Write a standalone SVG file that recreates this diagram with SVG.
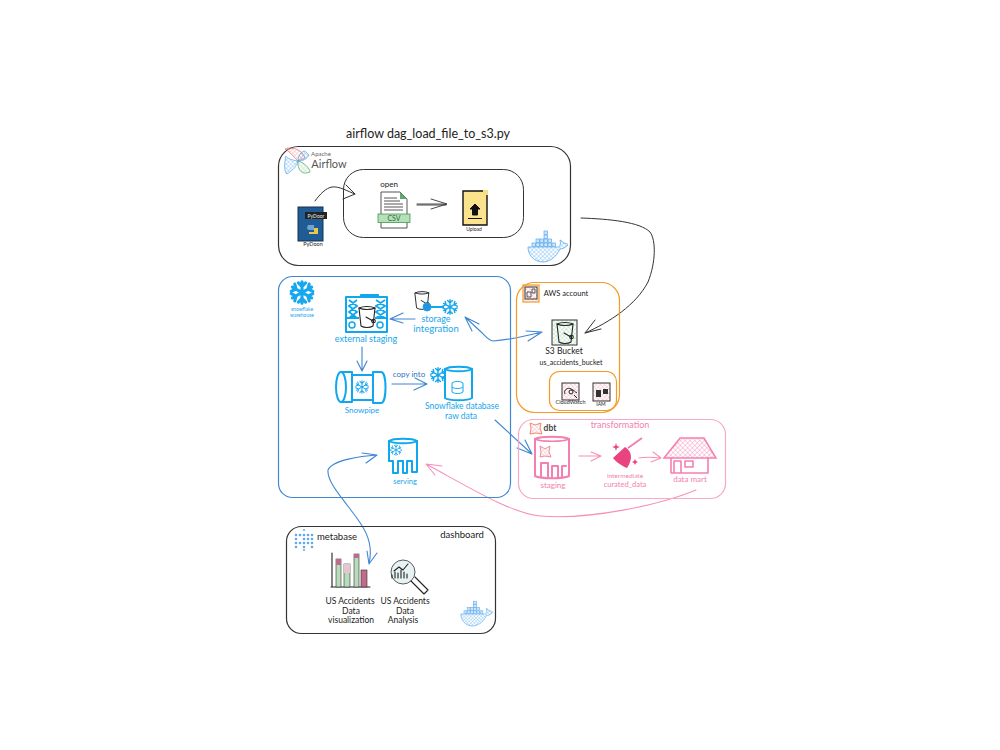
<svg xmlns="http://www.w3.org/2000/svg" width="1000" height="750" viewBox="0 0 1000 750">
<style>
text{font-family:"Lato","Liberation Sans",sans-serif;text-anchor:middle}
.k{fill:#222}.b{fill:#18a6ea}.p{fill:#f27fae}
.box{fill:none;stroke-width:1.2}
.ln{fill:none;stroke-linecap:round;stroke-linejoin:round}
.blk{stroke:#333;stroke-width:1}
.blu{stroke:#3f86d3;stroke-width:1.1}
.pnk{stroke:#f78fb8;stroke-width:1.1}
.ic{fill:none;stroke:#0fa8ee;stroke-width:2;stroke-linejoin:round;stroke-linecap:round}
.icp{fill:none;stroke:#f47fb0;stroke-width:1.6;stroke-linejoin:round;stroke-linecap:round}
.ick{fill:none;stroke:#222;stroke-width:1.1;stroke-linejoin:round;stroke-linecap:round}
</style>
<defs>
<pattern id="hb" width="3" height="3" patternUnits="userSpaceOnUse" patternTransform="rotate(45)"><path d="M0 0H3M0 0V3" stroke="#62aef0" stroke-width=".7"/></pattern>
<pattern id="hg" width="3" height="3" patternUnits="userSpaceOnUse" patternTransform="rotate(45)"><path d="M0 0H3M0 0V3" stroke="#a8d8b0" stroke-width=".8"/></pattern>
<pattern id="hr" width="3" height="3" patternUnits="userSpaceOnUse" patternTransform="rotate(45)"><path d="M0 0H3M0 0V3" stroke="#f3b0b8" stroke-width=".8"/></pattern>
<pattern id="hp" width="3.4" height="3.4" patternUnits="userSpaceOnUse" patternTransform="rotate(45)"><path d="M0 0H3.4M0 0V3.4" stroke="#f58db6" stroke-width=".8"/></pattern>
<g id="whale">
<path d="M-19 0H11C13 0 14 -3 13 -7C15 -6 16 -5 16 -4C19 -4 21 -3 21 -2C18 1 15 2 13 2C9 11 1 15 -4 15C-13 15 -19 8 -19 0Z" fill="url(#hb)" stroke="#5aa9ee" stroke-width=".8"/>
<g fill="#cfe5fa" stroke="#5aa9ee" stroke-width=".7"><rect x="-15" y="-4" width="3.600" height="3.600"/><rect x="-11" y="-4" width="3.600" height="3.600"/><rect x="-7" y="-4" width="3.600" height="3.600"/><rect x="-3" y="-4" width="3.600" height="3.600"/><rect x="1" y="-4" width="3.600" height="3.600"/><rect x="5" y="-4" width="3.600" height="3.600"/><rect x="-11" y="-8" width="3.600" height="3.600"/><rect x="-7" y="-8" width="3.600" height="3.600"/><rect x="-3" y="-8" width="3.600" height="3.600"/><rect x="1" y="-8" width="3.600" height="3.600"/><rect x="-3" y="-12" width="3.600" height="3.600"/><rect x="-3" y="-16" width="3.600" height="3.600"/></g>
</g>
<g id="flake" fill="none" stroke-linecap="round">
<path d="M0 -9V9M-8 -4.500L8 4.500M-8 4.500L8 -4.500M-3 -8L0 -5L3 -8M-3 8L0 5L3 8M-9 -1L-5 -3L-6 -7M9 1L5 3L6 7M-9 1L-5 3L-6 7M9 -1L5 -3L6 -7"/>
</g>
<g id="bucket" class="ick"><path d="M-8 -9C-4 -11 4 -11 8 -9L6 9C3 11 -3 11 -6 9Z"/><path d="M-8 -9C-4 -7 4 -7 8 -9"/><path d="M-1 0L6 4"/><circle cx="6.500" cy="4" r="1.800"/></g>
</defs>

<g id="connectors">
<path class="ln blk" d="M315 201C320 194 326 188 332 187C339 186 347 191 355 194M346 185L355 194L343 199"/>
<path class="ln blk" style="stroke-width:.9" d="M417 204H446M431 199L447 204L431 209M417 205H446"/>
<path class="ln blk" d="M581 218C610 219 640 222 650 232C656 240 656 262 648 282C636 305 610 322 585 333M595 320L585 333L601 329"/>
<path class="ln blu" d="M465 317L479 330C486 336 488 341 493 341C510 340 530 335 542 332M526 331L542 332L528 341M465 317L479 324M465 317L472 331"/>
<path class="ln blu" d="M415 319H390M403 313L390 319L403 323"/>
<path class="ln blu" d="M362 347V371M357 361L362 371L367 361"/>
<path class="ln blu" d="M392 384H427M415 378L427 384L414 390"/>
<path class="ln blu" d="M495 420L532 454M517 448L532 454L525 440"/>
<path class="ln pnk" d="M579 456H601M591 452L601 456L591 461"/>
<path class="ln pnk" d="M639 458C645 457 651 457 661 458M653 452L661 458L651 462"/>
<path class="ln pnk" d="M696 490C660 505 590 520 540 516C510 513 465 485 426 464M442 466L426 464L435 475"/>
<path class="ln blu" d="M377 455C362 456 332 460 328 470C327 480 338 493 347 505C360 522 375 538 369 564M377 553L369 564L367 551M362 453L377 455L366 463"/>
</g>

<g id="title"><text class="k" x="428" y="138" font-size="12.500">airflow dag_load_file_to_s3.py</text></g>

<g id="airflow-group">
<rect class="box" x="278.500" y="146.500" width="292" height="119" rx="20" stroke="#333"/>
<path d="M298 161C293 156 288 150 285 149C292 146 303 150 305 158Z" fill="url(#hr)" stroke="#e46a6a" stroke-width=".7"/>
<path d="M298 161C298 155 302 151 305 151L309 155C307 159 303 161 298 161Z" fill="url(#hb)" stroke="#54a5e8" stroke-width=".7"/>
<path d="M298 161C291 160 286 158 286 156C284 164 284 172 287 174C293 170 297 166 298 161Z" fill="url(#hb)" stroke="#54a5e8" stroke-width=".7"/>
<path d="M298 161C303 162 310 168 310 172C304 175 297 172 298 161Z" fill="url(#hg)" stroke="#4ca866" stroke-width=".7"/>
<text x="321" y="156" font-size="6" fill="#666">Apache</text>
<text x="329" y="168" font-size="11" fill="#555">Airflow</text>
<rect class="box" x="343.500" y="169.500" width="180" height="68" rx="20" stroke="#333" style="stroke-width:1"/>
<g id="python-file">
<rect x="298" y="207" width="25" height="34" fill="#1f5c96" stroke="#16324f"/>
<rect x="305" y="212" width="22" height="7" fill="#222"/>
<text x="316" y="217.500" font-size="5" fill="#eee">PyDoor</text>
<path d="M308 225H314V230H310C308 230 307 229 307 228Z" fill="#6fa4cf"/>
<path d="M314 228H318V234H309V232H314Z" fill="#e8c84a"/>
<text x="313" y="246" font-size="5.500" class="k">PyDoon</text>
</g>
<g id="csv-file">
<text class="k" x="389" y="187" font-size="8">open</text>
<path d="M381 192H400L407 199V228H381Z" fill="#fff" stroke="#555"/>
<path d="M400 192V199H407Z" fill="#5fa870"/>
<path d="M384 198H397M384 201H400M384 204H403M384 207H403M384 210H403" stroke="#444" stroke-width=".9"/>
<rect x="378" y="214" width="32" height="8.500" fill="#b8e0b8" stroke="#3f9a55" stroke-width=".8"/>
<text x="394" y="221" font-size="7" fill="#2b6b3c">CSV</text>
</g>
<g id="upload-file">
<path d="M463 191H484L487 194V225H463Z" fill="#fbe38e" stroke="#111" stroke-width="1.400"/>
<path d="M483 190H488V195H483Z" fill="#f8de7e"/>
<path d="M475 204L480 209H477.500V215H472.500V209H470ZM468 218.500H482" fill="#111" stroke="#111"/>
<text class="k" x="474" y="231" font-size="5">Upload</text>
</g>
<use href="#whale" x="547" y="247"/>
</g>

<g id="snowflake-group">
<rect class="box" x="278.500" y="276.500" width="232" height="221" rx="14" stroke="#3f86d3"/>
<use href="#flake" stroke="#17a7ee" stroke-width="2.600" transform="translate(302 292.500) scale(1.200)"/>
<text class="b" x="302" y="311" font-size="5">snowflake</text>
<text class="b" x="302" y="317" font-size="5">warehouse</text>
<g id="external-staging">
<path class="ic" d="M346 297H387V332H346ZM361 297V295H378V297M346 318H387"/>
<path d="M349 300L357 306L349 312L357 318M357 300L349 306L357 312L349 318M376 300L385 306L376 312L385 318M385 300L376 306L385 312L376 318" fill="none" stroke="#0fa8ee" stroke-width="1.800"/>
<circle cx="352" cy="325" r="3" fill="none" stroke="#0fa8ee" stroke-width="1.500"/><circle cx="380" cy="325" r="3" fill="none" stroke="#0fa8ee" stroke-width="1.500"/>
<rect x="359" y="307" width="16" height="20" fill="#fff"/>
<use href="#bucket" x="367" y="317"/>
<text class="b" x="366" y="342" font-size="9">external staging</text>
</g>
<g id="storage-integration">
<use href="#bucket" x="422" y="301" transform="translate(422 300.500) scale(.85) translate(-422 -301)"/>
<circle cx="427" cy="307" r="4" fill="#2a8fe0" stroke="#0fa8ee"/>
<path d="M431 307H444" stroke="#0fa8ee" stroke-width="2"/>
<use href="#flake" stroke="#17a7ee" stroke-width="1.800" transform="translate(450 307) scale(.8)"/>
<text class="b" x="436" y="322" font-size="9">storage</text>
<text class="b" x="436" y="332" font-size="9.500">integration</text>
</g>
<g id="snowpipe">
<path class="ic" d="M341 372H352V402H341M352 375H373V400H352M373 372H381C387 372 387 403 381 403H373Z"/>
<ellipse class="ic" cx="341" cy="387" rx="5" ry="15"/>
<use href="#flake" stroke="#17a7ee" stroke-width="1.500" transform="translate(362 387) scale(.7)"/>
<text class="b" x="362" y="413" font-size="8">Snowpipe</text>
</g>
<text x="409" y="377" font-size="8" fill="#2e75c0">copy into</text>
<g id="snowflake-db">
<use href="#flake" stroke="#17a7ee" stroke-width="1.800" transform="translate(438 375) scale(.8)"/>
<path class="ic" d="M445 369C449 366 468 366 472 369V398C468 401 449 401 445 398Z"/>
<path class="ic" d="M445 369C449 372 468 372 472 369"/>
<path d="M452 383C454 381 461 381 463 383V392C461 394 454 394 452 392ZM452 387C454 389 461 389 463 387" fill="none" stroke="#0fa8ee"/>
<text class="b" x="462" y="409" font-size="8.500">Snowflake database</text>
<text class="b" x="461" y="419" font-size="8.500">raw data</text>
</g>
<g id="serving">
<path class="ic" d="M389 441C393 438 413 438 417 441V472H412V461H407V473H403V461H398V473H393V461H389Z"/>
<path class="ic" d="M389 441C393 444 413 444 417 441"/>
<use href="#flake" stroke="#17a7ee" stroke-width="1.400" transform="translate(396 450) scale(.6)"/>
<text class="b" x="405" y="484" font-size="7.500">serving</text>
</g>
</g>

<g id="aws-group">
<rect class="box" x="516.500" y="282.500" width="103" height="130" rx="18" stroke="#f59a23"/>
<rect x="523" y="285" width="16" height="17" fill="url(#hr)" stroke="#f59a23" stroke-width="1.200"/>
<rect x="525" y="287" width="12" height="12" fill="none" stroke="#333"/>
<path d="M527 292H531V297H527ZM532 289H535V293H532Z" fill="none" stroke="#333" stroke-width=".8"/>
<text class="k" x="566" y="296" font-size="7.500">AWS account</text>
<g id="s3-bucket">
<rect x="552" y="320" width="25" height="25" fill="url(#hg)" stroke="#333"/>
<use href="#bucket" x="565" y="333"/>
<text class="k" x="564" y="354" font-size="8.500">S3 Bucket</text>
<text class="k" x="571" y="365" font-size="7">us_accidents_bucket</text>
</g>
<rect class="box" x="549.500" y="371.500" width="67" height="39" rx="10" stroke="#f59a23"/>
<g id="cloudwatch">
<rect x="562" y="383" width="17" height="17" fill="url(#hr)" stroke="#333"/>
<path d="M565 394C563 390 568 387 571 389C574 390 575 392 577 393M571 392m-2 0a2 2 0 1 0 4 0a2 2 0 1 0 -4 0M574 395L577 398" fill="none" stroke="#222"/>
<text class="k" x="570.500" y="404" font-size="5.500">CloudWatch</text>
</g>
<g id="iam">
<rect x="593" y="383" width="17" height="18" fill="url(#hr)" stroke="#333"/>
<path d="M596 390H601V397H596ZM603 389H608V394H603Z" fill="#333"/>
<text class="k" x="601" y="406" font-size="5">IAM</text>
</g>
</g>

<g id="dbt-group">
<rect class="box" x="518.500" y="419.500" width="207" height="79" rx="15" stroke="#f8a8c8"/>
<path d="M530 423L535 425L541 423L540 428L542 434L536 433L530 434L531 428Z" fill="url(#hr)" stroke="#f08a70" stroke-width="1"/>
<text x="550" y="431" font-size="8.500" font-weight="bold" fill="#444">dbt</text>
<text class="p" x="620" y="428" font-size="9">transformation</text>
<g id="staging">
<path class="icp" style="stroke-width:2" d="M535 439C541 436 563 436 569 439V476C563 479 541 479 535 476Z"/>
<path class="icp" d="M535 439C541 442 563 442 569 439"/>
<path class="icp" style="stroke-width:2" d="M541 477V463H548V477M552 477V466H558V477M562 477V466H566"/>
<path d="M540 446L545 449L550 446L549 452L551 457L545 456L540 457L541 452Z" fill="url(#hr)" stroke="#f08aa0"/>
<text class="p" x="553" y="488" font-size="8">staging</text>
</g>
<g id="intermediate">
<path d="M613 458L625 447C632 451 633 459 627 468C622 466 616 462 613 458Z" fill="#e9447f"/>
<path d="M628 448L642 438" stroke="#f47fb0" stroke-width="2"/>
<path d="M616 443L617 446L620 447L617 448L616 451L615 448L612 447L615 446ZM635 459L636 461L638 462L636 463L635 465L634 463L632 462L634 461Z" fill="#e9447f"/>
<text class="p" x="625" y="478" font-size="6.500">intermediate</text>
<text class="p" x="625" y="487" font-size="7.500">curated_data</text>
</g>
<g id="data-mart">
<path d="M664 458L680 438H704L716 458Z" fill="url(#hp)" stroke="#f47fb0" stroke-width="1.500"/>
<path class="icp" d="M671 458V473H708V458M674 473V461H681V473M685 461H693V467H685Z"/>
<text class="p" x="690" y="482" font-size="8">data mart</text>
</g>
</g>

<g id="metabase-group">
<rect class="box" x="286.500" y="526.500" width="209" height="107" rx="15" stroke="#333"/>
<g fill="#5fa9ec"><circle cx="296" cy="535" r="1.300"/><circle cx="300" cy="535" r="1.300"/><circle cx="304" cy="535" r="1.300"/><circle cx="308" cy="535" r="1.300"/><circle cx="312" cy="535" r="1.300"/>
<circle cx="296" cy="539" r="1.300"/><circle cx="304" cy="539" r="1.300"/><circle cx="308" cy="539" r="1.300"/><circle cx="312" cy="539" r="1.300"/>
<circle cx="296" cy="543" r="1.300"/><circle cx="300" cy="543" r="1.300"/><circle cx="304" cy="543" r="1.300"/><circle cx="308" cy="543" r="1.300"/><circle cx="312" cy="543" r="1.300"/>
<circle cx="296" cy="547" r="1.300"/><circle cx="304" cy="547" r="1.300"/><circle cx="312" cy="547" r="1.300"/><circle cx="304" cy="530" r="1"/><circle cx="304" cy="550" r="1"/></g>
<text class="k" x="337" y="540" font-size="9.500">metabase</text>
<text class="k" x="462" y="538" font-size="9.500">dashboard</text>
<g id="chart">
<path class="ick" d="M332 553V587M331 587H370"/>
<rect x="336" y="559" width="5" height="28" fill="#b7dcb9" stroke="#333" stroke-width=".6"/><rect x="336" y="559" width="5" height="6" fill="#c26a8c"/>
<rect x="344" y="564" width="6" height="23" fill="#b7dcb9" stroke="#333" stroke-width=".6"/><rect x="344" y="564" width="6" height="9" fill="#e6c4d0"/>
<rect x="354" y="554" width="5" height="33" fill="#b7dcb9" stroke="#333" stroke-width=".6"/><rect x="354" y="554" width="5" height="4" fill="#c26a8c"/>
<rect x="361" y="570" width="6" height="17" fill="#c26a8c" stroke="#333" stroke-width=".6"/>
<text class="k" x="350" y="604" font-size="8.500">US Accidents</text>
<text class="k" x="351" y="614" font-size="8.500">Data</text>
<text class="k" x="351" y="623" font-size="8.500">visualization</text>
</g>
<g id="analysis">
<circle cx="403" cy="572" r="12" fill="#e6f3f2" stroke="#333" stroke-width=".8"/>
<path class="ick" d="M392 578V575M395 578V572M398 578V573M401 578V570M404 578V572M407 578V574M394 571L399 567L403 570L408 564M411 581L424 594L428 590L415 577"/>
<text class="k" x="405" y="604" font-size="8.500">US Accidents</text>
<text class="k" x="405" y="614" font-size="8.500">Data</text>
<text class="k" x="403" y="623" font-size="8.500">Analysis</text>
</g>
<use href="#whale" transform="translate(476 614) scale(.8)"/>
</g>
</svg>
